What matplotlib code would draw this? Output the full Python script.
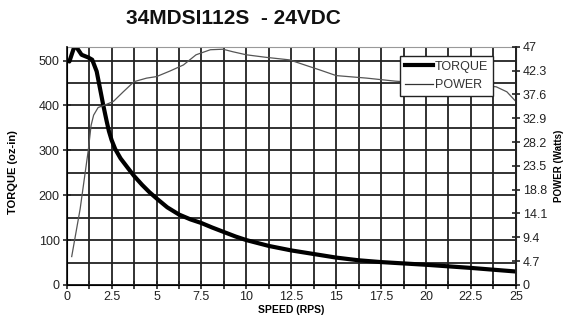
import numpy as np
import matplotlib
matplotlib.use('Agg')
import matplotlib.pyplot as plt

# speed (RPS) vs torque (oz-in)
torque_speed = [0.15, 0.46, 0.83, 1.2, 1.42, 1.67, 1.85, 2.03, 2.22, 2.35, 2.5, 2.7,
                3.0, 3.4, 3.75, 4.2, 4.6, 5.0, 5.6, 6.25, 6.9, 7.5, 8.1, 8.75,
                9.4, 10.0, 11.25, 12.5, 13.75, 15.0, 16.25, 17.5, 20.0, 22.5, 25.0]
torque = [498, 535, 513, 507, 502, 476, 439, 402, 366, 343, 323, 303,
          282, 261, 243, 223, 207, 193, 173, 157, 146, 138, 128, 118,
          108, 100, 87, 77, 69, 61, 55, 51, 45, 38, 30]

# speed (RPS) vs power (Watts)
power_speed = [0.28, 0.75, 1.2, 1.36, 1.5, 1.75, 2.2, 2.6, 3.15, 3.75, 4.45, 5.0,
               5.75, 6.5, 7.2, 8.0, 8.7, 9.25, 10.0, 11.1, 12.4, 13.5, 14.1, 15.0,
               16.7, 18.3, 20.0, 22.0, 23.9, 24.5, 25.0]
power = [5.6, 15.0, 26.5, 31.5, 33.5, 35.0, 35.6, 36.2, 38.1, 40.1, 40.8, 41.1,
         42.2, 43.4, 45.4, 46.4, 46.5, 46.0, 45.4, 44.9, 44.4, 43.1, 42.4, 41.3,
         40.8, 40.2, 39.8, 39.5, 39.1, 38.1, 36.2]

x_ticks = [0, 2.5, 5, 7.5, 10, 12.5, 15, 17.5, 20, 22.5, 25]
x_labels = ['0', '2.5', '5', '7.5', '10', '12.5', '15', '17.5', '20', '22.5', '25']
torque_ticks = [0, 100, 200, 300, 400, 500]
power_ticks = [0, 4.7, 9.4, 14.1, 18.8, 23.5, 28.2, 32.9, 37.6, 42.3, 47]
power_labels = ['0', '4.7', '9.4', '14.1', '18.8', '23.5', '28.2', '32.9',
                '37.6', '42.3', '47']

plt.rcParams['font.family'] = ['Liberation Sans', 'DejaVu Sans']

fig = plt.figure(figsize=(5.65, 3.22), dpi=100)
ax = fig.add_axes([0.118, 0.115, 0.795, 0.740])

ax.plot(torque_speed, torque, color='black', lw=3.0, solid_capstyle='round',
        solid_joinstyle='round')
ax.set_xlim(0, 25)
ax.set_ylim(0, 531)
ax.set_xticks(x_ticks)
ax.set_xticklabels(x_labels)
ax.set_xticks(np.arange(0, 25.01, 1.25), minor=True)
ax.set_yticks(torque_ticks)
ax.set_yticks(np.arange(0, 531, 50), minor=True)
ax.grid(which='both', color='#222222', lw=1.3)
ax.set_axisbelow(True)
ax.tick_params(axis='x', which='both', direction='inout', length=6, width=1.2,
               labelsize=9, colors='#222222', pad=1)
ax.tick_params(axis='y', which='both', direction='inout', length=6, width=1.2,
               labelsize=9, colors='#222222', pad=2)
ax.tick_params(axis='y', which='minor', length=0)
for s in ['left', 'bottom']:
    ax.spines[s].set_color('#222222')
    ax.spines[s].set_linewidth(1.3)
ax.spines['top'].set_color('#999999')
ax.spines['right'].set_color('#222222')

ax.set_xlabel('SPEED (RPS)', fontsize=7.5, fontweight='bold', labelpad=2)
ax.set_ylabel('TORQUE (oz-in)', fontsize=8, fontweight='bold')
ax.yaxis.set_label_coords(-0.108, 0.474)

ax2 = ax.twinx()
ax2.plot(power_speed, power, color='#555555', lw=0.9)
ax2.set_ylim(0, 47)
ax2.set_yticks(power_ticks)
ax2.set_yticklabels(power_labels)
ax2.tick_params(axis='y', direction='inout', length=6, width=1.2,
                labelsize=9, colors='#222222', pad=2)
ax2.spines['right'].set_color('#222222')
ax2.spines['right'].set_linewidth(1.3)
ax2.spines['top'].set_visible(False)
ax2.set_ylabel('POWER (Watts)', fontsize=7, fontweight='bold')
ax2.yaxis.set_label_coords(1.086, 0.5)

h1 = plt.Line2D([], [], color='black', lw=3.0)
h2 = plt.Line2D([], [], color='#333333', lw=0.9)
leg = ax2.legend([h1, h2], ['TORQUE', 'POWER'], loc='upper right',
                 bbox_to_anchor=(0.949, 0.962), fontsize=9, frameon=True,
                 fancybox=False, framealpha=1, edgecolor='#222222',
                 handlelength=2.2, handletextpad=0.15, borderpad=0.4,
                 labelspacing=0.5, borderaxespad=0)
leg.get_frame().set_linewidth(1.0)
for t in leg.get_texts():
    t.set_color('#333333')

fig.text(0.413, 0.944, '34MDSI112S  - 24VDC', fontsize=15, fontweight='bold',
         ha='center', va='center', color='#111111')

fig.savefig('out.png', dpi=100)
